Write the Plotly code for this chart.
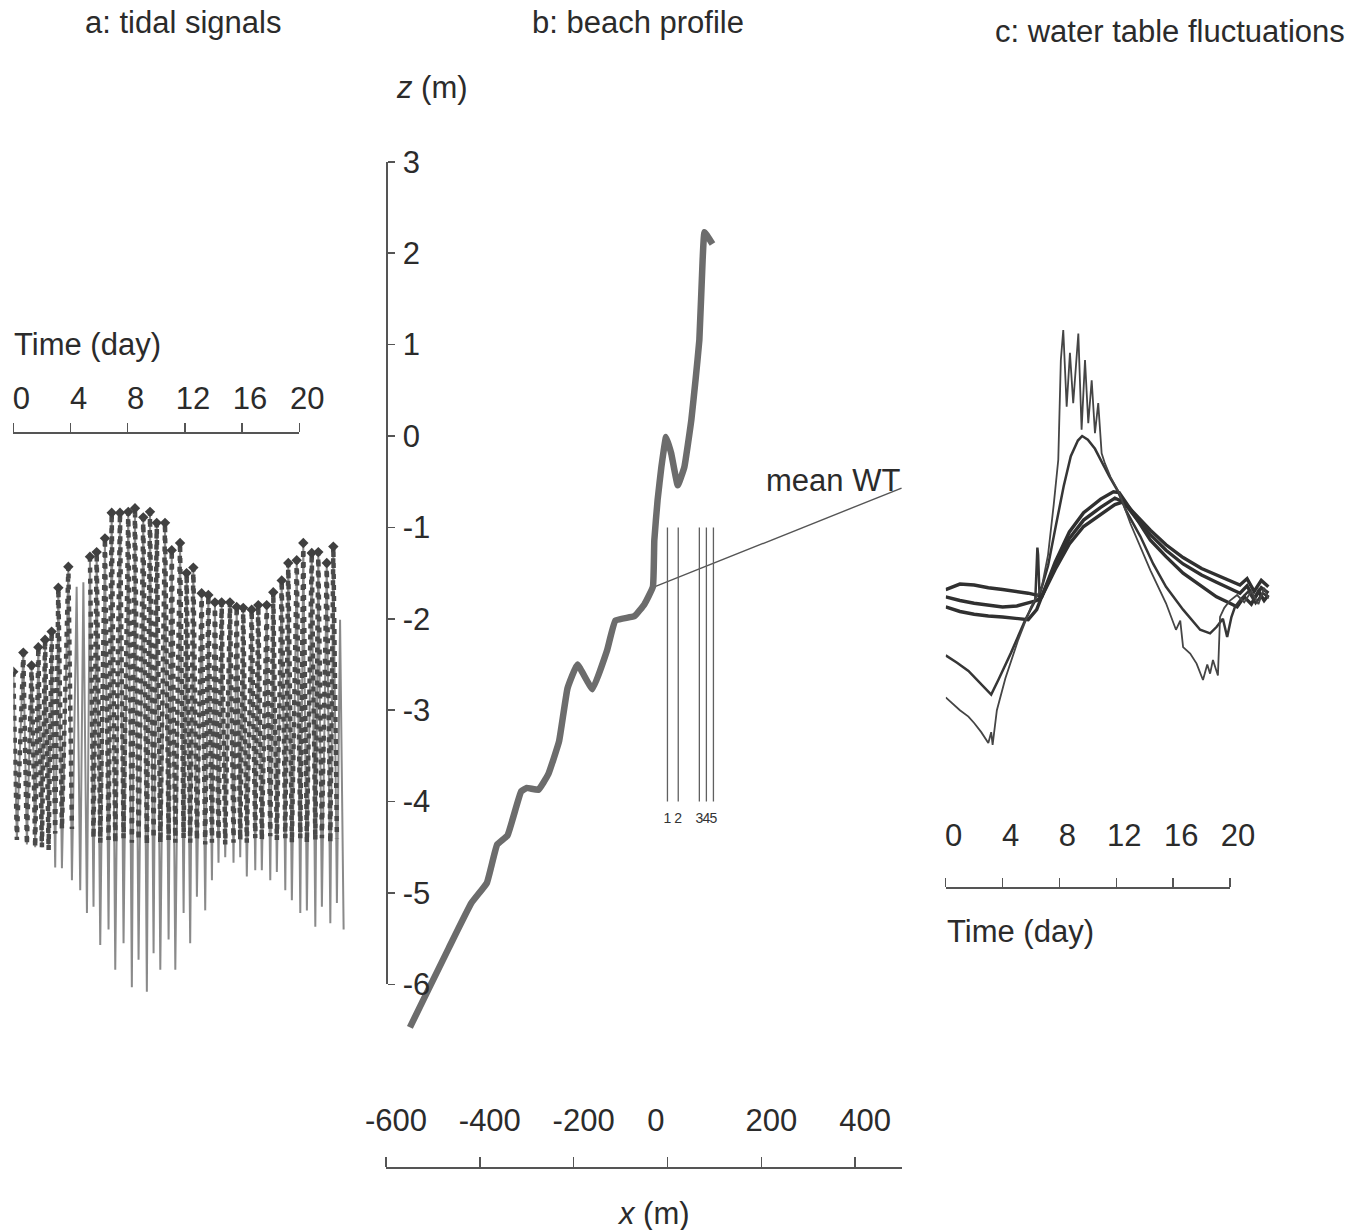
import plotly.graph_objects as go

W, H = 1366, 1230
FONT = "Liberation Sans, Arial, sans-serif"
TXT = "#2b2b2b"

# ---------------- panel a: tidal signal (time in days, level z in m) ----------------
tide_t_high = [0.00, 0.70, 1.28, 1.75, 2.22, 2.68, 3.15, 3.85, 4.43, 4.90, 5.36, 5.83, 6.41, 6.88, 7.46,
               8.04, 8.51, 9.09, 9.56, 10.03, 10.61, 11.08, 11.66, 12.12, 12.59, 13.17, 13.64, 14.10,
               14.57, 15.15, 15.62, 16.08, 16.67, 17.13, 17.72, 18.18, 18.77, 19.23, 19.82, 20.28,
               20.87, 21.33, 21.92, 22.38, 22.85]
tide_high = [-2.58, -2.37, -2.51, -2.31, -2.23, -2.14, -1.66, -1.43, -1.65, -1.60, -1.32, -1.27, -1.12,
             -0.84, -0.84, -0.83, -0.79, -0.89, -0.83, -0.95, -0.95, -1.25, -1.17, -1.50, -1.44, -1.72,
             -1.74, -1.82, -1.82, -1.82, -1.87, -1.88, -1.90, -1.85, -1.85, -1.71, -1.58, -1.39, -1.36,
             -1.17, -1.28, -1.27, -1.39, -1.21, -2.01]
tide_t_low = [0.25, 0.95, 1.53, 2.00, 2.47, 2.93, 3.40, 4.10, 4.68, 5.15, 5.61, 6.08, 6.66, 7.13, 7.71,
              8.29, 8.76, 9.34, 9.81, 10.28, 10.86, 11.33, 11.91, 12.37, 12.84, 13.42, 13.89, 14.35,
              14.82, 15.40, 15.87, 16.33, 16.92, 17.38, 17.97, 18.43, 19.02, 19.48, 20.07, 20.53,
              21.12, 21.58, 22.17, 22.63, 23.10]
tide_low = [-4.42, -4.47, -4.50, -4.50, -4.53, -4.72, -4.73, -4.86, -4.97, -5.22, -5.15, -5.57, -5.40,
            -5.84, -5.55, -6.03, -5.73, -6.08, -5.66, -5.84, -5.51, -5.84, -5.22, -5.55, -5.04, -5.19,
            -4.86, -4.67, -4.61, -4.67, -4.61, -4.82, -4.75, -4.75, -4.86, -4.77, -4.97, -5.08, -5.22,
            -5.19, -5.37, -5.15, -5.33, -5.11, -5.40]
# sampled (marker) series: same highs, lows limited at the seepage level, gap near day 4.5-5
mark_high = [-2.58, -2.37, -2.51, -2.31, -2.23, -2.14, -1.66, -1.43, None, None, -1.32, -1.27, -1.12,
             -0.84, -0.84, -0.83, -0.79, -0.89, -0.83, -0.95, -0.95, -1.25, -1.17, -1.50, -1.44, -1.72,
             -1.74, -1.82, -1.82, -1.82, -1.87, -1.88, -1.90, -1.85, -1.85, -1.71, -1.58, -1.39, -1.36,
             -1.17, -1.28, -1.27, -1.39, -1.21, None]
mark_low = [-4.42, -4.47, -4.50, -4.50, -4.53, -4.35, -4.30, -4.30, None, None, -4.40, -4.45, -4.42,
            -4.45, -4.40, -4.45, -4.42, -4.47, -4.40, -4.45, -4.42, -4.45, -4.40, -4.45, -4.42, -4.47,
            -4.45, -4.42, -4.47, -4.45, -4.42, -4.45, -4.40, -4.42, -4.38, -4.42, -4.40, -4.45, -4.40,
            -4.45, -4.42, -4.40, -4.45, -4.40, None]

# ---------------- panel b: beach profile ----------------
prof_x = [-549, -510, -466, -418, -385, -363, -341, -312, -300, -275, -254, -231, -213, -192, -160,
          -129, -111, -70, -49, -31, -28, -21, -13, -3, 8, 22, 36, 51, 60, 68, 75, 79, 96]
prof_z = [-6.47, -6.06, -5.60, -5.11, -4.89, -4.47, -4.37, -3.89, -3.85, -3.87, -3.70, -3.34, -2.76,
          -2.50, -2.77, -2.35, -2.02, -1.97, -1.84, -1.65, -1.14, -0.70, -0.34, -0.01, -0.19, -0.54,
          -0.34, 0.18, 0.62, 1.05, 1.93, 2.23, 2.10]
wt_x = [-32, 499]
wt_z = [-1.66, -0.57]
well_x = [0, 23, 68, 83, 98]
well_names = ["1", "2", "3", "4", "5"]
well_top, well_bottom = -1.0, -4.0
x_ticks = [-600, -400, -200, 0, 200, 400]
x_ticktext = ["-600", "-400", "-200", "0&nbsp;&nbsp;&nbsp;&nbsp;&nbsp;", "200", "400"]
z_ticks = [-6, -5, -4, -3, -2, -1, 0, 1, 2, 3]

# ---------------- panel c: water table at wells 1-5 ----------------
c_t1 = [0.0, 0.5, 1.0, 1.6, 2.0, 2.5, 3.0, 3.2, 3.3, 3.6, 4.2, 5.1, 6.0, 6.75, 7.2, 7.6, 7.92, 8.1,
        8.27, 8.51, 8.74, 8.97, 9.33, 9.56, 9.80, 10.03, 10.27, 10.50, 10.73, 10.97, 11.2, 11.6, 12.2,
        13.0, 13.7, 14.4, 15.5, 16.2, 16.5, 16.7, 17.2, 17.65, 18.1, 18.4, 18.6, 18.8, 19.15, 19.3,
        19.6, 20.0, 20.5, 21.0, 21.5, 22.0, 22.4, 22.7]
c_z1 = [-2.86, -2.93, -3.00, -3.07, -3.14, -3.24, -3.36, -3.24, -3.38, -3.00, -2.65, -2.23, -1.87,
        -1.66, -1.30, -0.75, -0.26, 0.83, 1.16, 0.32, 0.91, 0.36, 1.12, 0.07, 0.83, 0.14, 0.61, 0.03,
        0.36, -0.19, -0.30, -0.45, -0.62, -0.96, -1.22, -1.47, -1.83, -2.12, -2.02, -2.31, -2.38,
        -2.49, -2.67, -2.50, -2.60, -2.45, -2.62, -1.98, -1.88, -1.80, -1.74, -1.82, -1.70, -1.84,
        -1.66, -1.78]
c_t2 = [0.0, 0.8, 1.6, 2.3, 2.8, 3.2, 3.7, 4.6, 5.6, 6.3, 6.45, 6.5, 6.6, 6.75, 7.2, 7.7, 8.3, 8.8,
        9.3, 9.6, 10.0, 10.5, 11.0, 11.5, 12.1, 12.7, 13.7, 14.6, 15.5, 16.7, 17.9, 18.6, 19.05, 19.5,
        19.8, 20.1, 20.35, 20.8, 21.3, 21.8, 22.3, 22.7]
c_z2 = [-2.40, -2.48, -2.57, -2.68, -2.77, -2.83, -2.67, -2.37, -2.01, -1.80, -1.22, -1.30, -1.74,
        -1.66, -1.42, -1.02, -0.55, -0.22, -0.05, 0.00, -0.04, -0.14, -0.29, -0.44, -0.60, -0.82,
        -1.10, -1.40, -1.65, -1.90, -2.12, -2.16, -2.09, -2.00, -2.20, -1.98, -1.87, -1.78, -1.70,
        -1.83, -1.72, -1.76]
c_t3 = [0.0, 1.0, 2.0, 3.0, 4.0, 5.0, 5.8, 6.4, 6.75, 7.7, 8.7, 9.7, 10.9, 11.8, 12.2, 13.0, 14.4,
        15.5, 16.7, 18.0, 19.05, 20.0, 20.5, 21.0, 21.5, 22.0, 22.4, 22.7]
c_z3 = [-1.87, -1.92, -1.95, -1.97, -1.98, -2.00, -2.01, -1.90, -1.76, -1.38, -1.05, -0.84, -0.69,
        -0.61, -0.62, -0.80, -1.14, -1.32, -1.50, -1.65, -1.76, -1.83, -1.87, -1.76, -1.84, -1.70,
        -1.80, -1.74]
c_t4 = [0.0, 1.0, 2.0, 3.0, 4.0, 5.0, 5.8, 6.4, 6.75, 7.7, 8.7, 9.7, 10.9, 11.9, 12.5, 13.5, 14.4,
        15.5, 16.7, 18.0, 19.05, 20.0, 20.7, 21.2, 21.7, 22.2, 22.7]
c_z4 = [-1.76, -1.80, -1.83, -1.85, -1.87, -1.86, -1.83, -1.80, -1.76, -1.42, -1.12, -0.92, -0.78,
        -0.68, -0.72, -0.92, -1.08, -1.25, -1.40, -1.52, -1.60, -1.67, -1.72, -1.64, -1.78, -1.66, -1.72]
c_t5 = [0.0, 1.0, 2.0, 3.0, 4.0, 5.0, 5.8, 6.4, 6.75, 7.7, 8.7, 9.7, 10.9, 11.9, 12.5, 13.5, 14.4,
        15.5, 16.7, 18.0, 19.05, 20.0, 20.7, 21.2, 21.7, 22.2, 22.7]
c_z5 = [-1.68, -1.62, -1.63, -1.66, -1.68, -1.70, -1.72, -1.74, -1.76, -1.46, -1.18, -0.99, -0.86,
        -0.75, -0.72, -0.88, -1.03, -1.19, -1.33, -1.45, -1.52, -1.58, -1.63, -1.56, -1.70, -1.58, -1.65]
time_ticks = [0, 4, 8, 12, 16, 20]

# ---------------- layout geometry (pixels) ----------------
Z0_PX, PX_PER_M = 436.0, 91.4          # z = 0 row and vertical scale shared by all panels
DATA_TOP, DATA_BOT = 110.0, 1070.0     # vertical extent of the shared data area
XB_LEFT, XB_RIGHT = 386.0, 902.0       # panel b x-axis extent (-600 .. 500 m)
A_LEFT, A_RIGHT_DATA, A_RIGHT_AX, A_AXIS_Y = 13.3, 352.0, 299.3, 432.0
C_LEFT, C_RIGHT_DATA, C_RIGHT_AX, C_AXIS_Y = 945.7, 1276.0, 1230.0, 887.0
PX_PER_DAY_A = (A_RIGHT_AX - A_LEFT) / 20.0
PX_PER_DAY_C = (C_RIGHT_AX - C_LEFT) / 20.0


def fx(p):
    return p / W


def fy(p):
    return 1 - p / H


def zpx(z):
    return Z0_PX - z * PX_PER_M


def zigzag(t_hi, v_hi, t_lo, v_lo):
    xs, ys = [], []
    for a, b, c, d in zip(t_hi, v_hi, t_lo, v_lo):
        xs += [a, c]
        ys += [b, d]
    return xs, ys


fig = go.Figure()

# panel a traces
ta, za = zigzag(tide_t_high, tide_high, tide_t_low, tide_low)
fig.add_trace(go.Scatter(x=ta, y=za, xaxis="x2", yaxis="y", mode="lines",
                         line=dict(color="#8a8a8a", width=2.0), showlegend=False, hoverinfo="skip"))
tm, zm = zigzag(tide_t_high, mark_high, tide_t_low, mark_low)
fig.add_trace(go.Scatter(x=tm, y=zm, xaxis="x2", yaxis="y", mode="lines",
                         line=dict(color="#4a4a4a", width=4.5, dash="5px,6px"),
                         connectgaps=False, showlegend=False, hoverinfo="skip"))
fig.add_trace(go.Scatter(x=tide_t_high, y=mark_high, xaxis="x2", yaxis="y", mode="markers",
                         marker=dict(symbol="diamond", size=8, color="#404040"),
                         showlegend=False, hoverinfo="skip"))

# panel b traces
fig.add_trace(go.Scatter(x=wt_x, y=wt_z, xaxis="x", yaxis="y", mode="lines",
                         line=dict(color="#555555", width=1.4), showlegend=False, hoverinfo="skip"))
wx, wz = [], []
for xv in well_x:
    wx += [xv, xv, None]
    wz += [well_top, well_bottom, None]
fig.add_trace(go.Scatter(x=wx, y=wz, xaxis="x", yaxis="y", mode="lines",
                         line=dict(color="#606060", width=1.3), showlegend=False, hoverinfo="skip"))
fig.add_trace(go.Scatter(x=prof_x, y=prof_z, xaxis="x", yaxis="y", mode="lines",
                         line=dict(color="#6c6c6c", width=6.5, shape="spline", smoothing=0.3),
                         showlegend=False, hoverinfo="skip"))
fig.add_trace(go.Scatter(x=well_x, y=[well_bottom - 0.2] * len(well_x), xaxis="x", yaxis="y",
                         mode="text", text=well_names,
                         textfont=dict(family=FONT, size=14, color="#333333"),
                         showlegend=False, hoverinfo="skip"))
# dummy trace so the displayed z-axis is drawn
fig.add_trace(go.Scatter(x=[None], y=[None], xaxis="x", yaxis="y2", mode="lines",
                         showlegend=False, hoverinfo="skip"))

# panel c traces
for tt, zz, col, wd in [(c_t5, c_z5, "#303030", 3.4), (c_t4, c_z4, "#303030", 3.4),
                        (c_t3, c_z3, "#303030", 3.4), (c_t2, c_z2, "#363636", 2.5),
                        (c_t1, c_z1, "#454545", 1.8)]:
    fig.add_trace(go.Scatter(x=tt, y=zz, xaxis="x4", yaxis="y", mode="lines",
                             line=dict(color=col, width=wd), showlegend=False, hoverinfo="skip"))

# dummy traces for displayed time axes
fig.add_trace(go.Scatter(x=[None], y=[None], xaxis="x3", yaxis="y", mode="lines",
                         showlegend=False, hoverinfo="skip"))
fig.add_trace(go.Scatter(x=[None], y=[None], xaxis="x5", yaxis="y", mode="lines",
                         showlegend=False, hoverinfo="skip"))

axis_common = dict(showgrid=False, zeroline=False, linecolor="#555555", linewidth=1.5,
                   tickcolor="#555555", tickwidth=1.5,
                   tickfont=dict(family=FONT, size=31, color=TXT))

z_top = (Z0_PX - DATA_TOP) / PX_PER_M
z_bot = (Z0_PX - DATA_BOT) / PX_PER_M

fig.update_layout(
    width=W, height=H, margin=dict(l=0, r=0, t=0, b=0, autoexpand=False),
    paper_bgcolor="white", plot_bgcolor="rgba(0,0,0,0)", hovermode=False, showlegend=False,
    # shared (hidden) vertical data axis
    yaxis=dict(domain=[fy(DATA_BOT), fy(DATA_TOP)], range=[z_bot, z_top], visible=False,
               anchor="free", position=0),
    # displayed z-axis of panel b
    yaxis2=dict(domain=[fy(zpx(-6)), fy(zpx(3))], range=[-6, 3], anchor="free", position=fx(XB_LEFT),
                side="right", showline=True, ticks="outside", ticklen=7, tickvals=z_ticks,
                ticktext=[str(v) for v in z_ticks], ticklabelstandoff=2, **axis_common),
    # panel b x-axis (data + display)
    xaxis=dict(domain=[fx(XB_LEFT), fx(XB_RIGHT)], range=[-600, 500], anchor="free",
               position=fy(1167), side="top", showline=True, ticks="outside", ticklen=10,
               tickvals=x_ticks, ticktext=x_ticktext,
               ticklabelstandoff=14, ticklabelshift=10, **axis_common),
    # panel a hidden data x-axis
    xaxis2=dict(domain=[fx(A_LEFT), fx(A_RIGHT_DATA)],
                range=[0, (A_RIGHT_DATA - A_LEFT) / PX_PER_DAY_A], visible=False,
                anchor="free", position=0),
    # panel a displayed time axis
    xaxis3=dict(domain=[fx(A_LEFT), fx(A_RIGHT_AX)], range=[0, 20], anchor="free",
                position=fy(A_AXIS_Y), side="top", showline=True, ticks="outside", ticklen=9,
                tickvals=time_ticks, ticklabelstandoff=2, ticklabelshift=8, **axis_common),
    # panel c hidden data x-axis
    xaxis4=dict(domain=[fx(C_LEFT), fx(C_RIGHT_DATA)],
                range=[0, (C_RIGHT_DATA - C_LEFT) / PX_PER_DAY_C], visible=False,
                anchor="free", position=0),
    # panel c displayed time axis
    xaxis5=dict(domain=[fx(C_LEFT), fx(C_RIGHT_AX)], range=[0, 20], anchor="free",
                position=fy(C_AXIS_Y), side="top", showline=True, ticks="outside", ticklen=9,
                tickvals=time_ticks, ticklabelstandoff=20, ticklabelshift=8, **axis_common),
)

ann_font = dict(family=FONT, size=31, color=TXT)
annotations = [
    dict(text="a: tidal signals", x=fx(183), y=fy(22), xanchor="center", yanchor="middle"),
    dict(text="b: beach profile", x=fx(638), y=fy(22), xanchor="center", yanchor="middle"),
    dict(text="c: water table fluctuations", x=fx(1170), y=fy(32), xanchor="center", yanchor="middle"),
    dict(text="<i>z</i> (m)", x=fx(432), y=fy(88), xanchor="center", yanchor="middle"),
    dict(text="Time (day)", x=fx(12), y=fy(344), xanchor="left", yanchor="middle"),
    dict(text="Time (day)", x=fx(945), y=fy(931), xanchor="left", yanchor="middle"),
    dict(text="<i>x</i> (m)", x=fx(653), y=fy(1213), xanchor="center", yanchor="middle"),
]
for a in annotations:
    a.update(xref="paper", yref="paper", showarrow=False, font=ann_font)
annotations.append(dict(text="mean WT", x=wt_x[1], y=wt_z[1], xref="x", yref="y", xanchor="right",
                        yanchor="middle", yshift=8, showarrow=False, font=ann_font))
fig.update_layout(annotations=annotations)

fig.write_html("out.html", config={"displayModeBar": False, "staticPlot": True},
               post_script="document.body.style.margin='0px';document.body.style.padding='0px';")
